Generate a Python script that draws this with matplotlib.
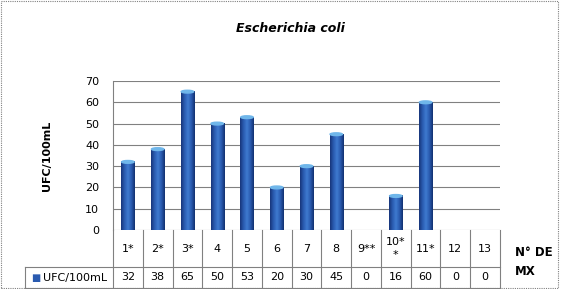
import numpy as np
import matplotlib.pyplot as plt
from matplotlib.patches import Rectangle, Ellipse
from matplotlib.colors import LinearSegmentedColormap

categories = ['1*', '2*', '3*', '4', '5', '6', '7', '8', '9**', '10*\n*', '11*', '12', '13']
values = [32, 38, 65, 50, 53, 20, 30, 45, 0, 16, 60, 0, 0]
series_name = 'UFC/100mL'

fig = plt.figure(figsize=(5.63, 2.89), dpi=100)
ax = fig.add_axes([113 / 563, 1 - 230 / 289, 387 / 563, 149 / 289])

x = np.arange(len(values))
w = 0.44
cmap = LinearSegmentedColormap.from_list('cyl', ['#17357a', '#2a5bb0', '#3f7ad0', '#2a5bb0', '#123070'])
grad = np.linspace(0, 1, 64).reshape(1, -1)
for xi, v in zip(x, values):
    if v <= 0:
        continue
    ax.imshow(grad, cmap=cmap, extent=[xi - w / 2, xi + w / 2, 0, v], aspect='auto', zorder=3)
    ax.add_patch(Ellipse((xi, v), w * 0.95, 1.3, color='#6fb6ea', zorder=4))

ax.set_xlim(-0.5, len(values) - 0.5)
ax.set_ylim(0, 70)
ax.set_yticks(range(0, 71, 10))
ax.yaxis.grid(True, color='#808080', lw=0.8)
ax.set_axisbelow(True)
ax.set_xticks([])
ax.tick_params(axis='y', length=0, labelsize=8, pad=10)
for s in ['top', 'right', 'bottom']:
    ax.spines[s].set_visible(False)
ax.spines['left'].set_color('#808080')
ax.set_ylabel('UFC/100mL', fontsize=8, fontweight='bold', labelpad=24)

# data table under the axis
r1 = -37 / 149
r2 = -58 / 149
lc = '#808080'
tr = ax.get_xaxis_transform()
for i in range(len(values) + 1):
    ax.plot([i - 0.5, i - 0.5], [0, r2], transform=tr, color=lc, lw=0.8, clip_on=False)
lx = -0.5 - 88 / 29.77
ax.plot([lx, len(values) - 0.5], [r1, r1], transform=tr, color=lc, lw=0.8, clip_on=False)
ax.plot([lx, len(values) - 0.5], [r2, r2], transform=tr, color=lc, lw=0.8, clip_on=False)
ax.plot([lx, lx], [r1, r2], transform=tr, color=lc, lw=0.8, clip_on=False)
for xi, c, v in zip(x, categories, values):
    ax.text(xi, r1 / 2, c, transform=tr, ha='center', va='center', fontsize=8, linespacing=1.3)
    ax.text(xi, (r1 + r2) / 2, str(v), transform=tr, ha='center', va='center', fontsize=8)
ax.text(lx + 0.2, (r1 + r2) / 2, '\u25a0', transform=tr, ha='left', va='center',
        fontsize=7, color='#2a5bb0')
ax.text(lx + 0.6, (r1 + r2) / 2, series_name, transform=tr, ha='left', va='center', fontsize=8)

fig.text(515 / 563, 1 - 262 / 289, 'N° DE\nMX', ha='left', va='center', fontsize=8.5,
         fontweight='bold', linespacing=1.6)
fig.text(290 / 563, 1 - 29 / 289, 'Escherichia coli', ha='center', va='center', fontsize=9,
         fontweight='bold', fontstyle='italic')

fig.patches.append(Rectangle((0.002, 0.003), 0.989, 0.994, transform=fig.transFigure,
                             fill=False, ec='#808080', lw=0.8, ls=(0, (1, 1))))

fig.savefig('out.png', dpi=100)
